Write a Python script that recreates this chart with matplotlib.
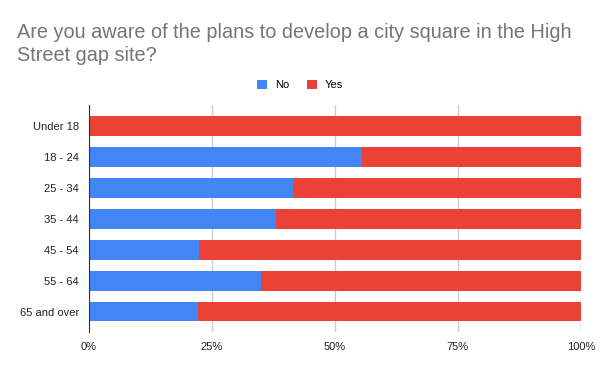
import matplotlib
matplotlib.use("Agg")
import matplotlib.pyplot as plt
from matplotlib.ticker import PercentFormatter

plt.rcParams['font.family'] = ['Liberation Sans', 'DejaVu Sans']

# data (share of respondents, %)
age_groups = ["Under 18", "18 - 24", "25 - 34", "35 - 44", "45 - 54", "55 - 64", "65 and over"]
no_share = [0.0, 55.6, 41.6, 38.0, 22.5, 35.1, 22.2]
yes_share = [100 - v for v in no_share]
x_ticks = [0, 25, 50, 75, 100]

blue = "#4285f4"
red = "#ea4335"

fig = plt.figure(figsize=(6, 3.71), dpi=100)
ax = fig.add_axes([88.5 / 600, 39 / 371, (581 - 88.5) / 600, (332 - 105) / 371])

ypos = list(range(len(age_groups)))
ax.barh(ypos, no_share, height=0.64, color=blue, label="No", zorder=2)
ax.barh(ypos, yes_share, left=no_share, height=0.64, color=red, label="Yes", zorder=2)

ax.set_xlim(0, 100)
ax.set_ylim(6.66, -0.68)
ax.set_yticks(ypos)
ax.set_yticklabels(age_groups)
ax.set_xticks(x_ticks)
ax.xaxis.set_major_formatter(PercentFormatter(decimals=0))
ax.tick_params(axis='both', length=0, labelsize=8, labelcolor="#222222")
ax.tick_params(axis='y', pad=7)
ax.tick_params(axis='x', pad=7)
ax.grid(axis='x', color="#cccccc", linewidth=1, zorder=0)
for side in ["top", "right", "bottom"]:
    ax.spines[side].set_visible(False)
ax.spines["left"].set_color("#333333")
ax.spines["left"].set_zorder(3)

fig.text(17 / 600, 1 - 44 / 371, "Are you aware of the plans to develop a city square in the High\nStreet gap site?",
         fontsize=14.3, color="#757575", ha="left", va="center", linespacing=1.27)

fig.legend(loc="center", bbox_to_anchor=(0.5, 1 - 85 / 371), ncol=2, frameon=False,
           fontsize=8, handlelength=0.9, handleheight=0.9, handletextpad=0.7, columnspacing=1.6)

fig.savefig("out.png", dpi=100)
